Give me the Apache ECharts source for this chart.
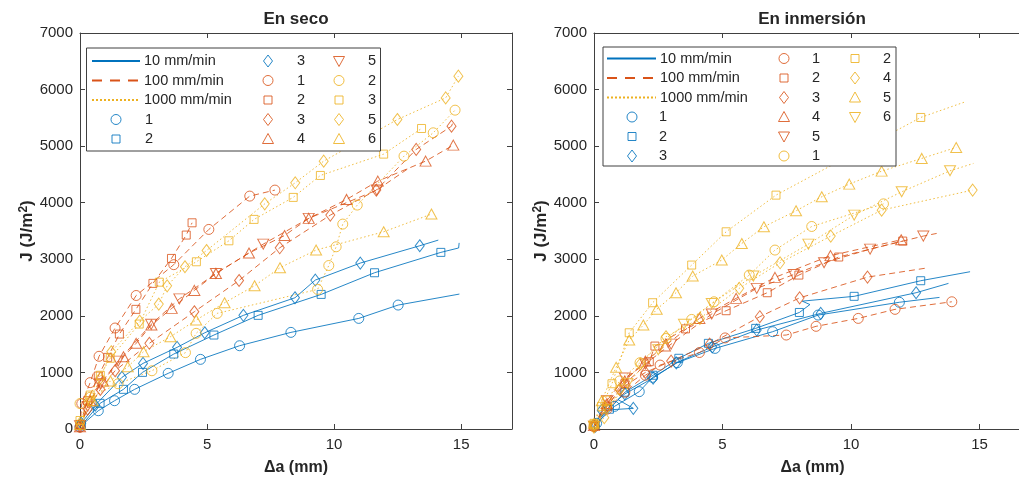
<!DOCTYPE html>
<html><head><meta charset="utf-8">
<script src="https://cdn.jsdelivr.net/npm/echarts@6/dist/echarts.min.js"></script>
<style>html,body{margin:0;padding:0;background:#fff}#c{width:1019px;height:480px}</style>
</head><body><div id="c"></div>
<script>
// ---------- text ----------
const panelTitles = ['En seco', 'En inmersión'];
const xAxisName = 'Δa (mm)';
const yAxisName = 'J (J/m{sup|2})';
const rateLabels = ['10 mm/min', '100 mm/min', '1000 mm/min'];
const xTickValues = [0, 5, 10, 15];
const yTickValues = [0, 1000, 2000, 3000, 4000, 5000, 6000, 7000];

// ---------- data: [Δa (mm), J (J/m2), (0 = line point without marker)] ----------
// En seco
const seco_b1 = [[0,40],[0.72,323],[1.36,500],[2.15,701],[3.47,984],[4.74,1231],[6.28,1472],[8.30,1708],[10.97,1955],[12.52,2191],[14.93,2385,0]];
const seco_b2 = [[0.05,60],[0.79,454],[1.71,701],[2.46,1001],[3.69,1325],[5.27,1661],[7.01,2009],[9.49,2379],[11.59,2762],[14.20,3122],[14.9,3200,0],[14.92,3290,0]];
const seco_b3 = [[0.05,100],[0.6,420],[1.65,913],[2.48,1160],[3.82,1443],[4.91,1701],[6.43,2009],[8.46,2320],[9.26,2633],[11.03,2933],[13.37,3239],[14.1,3339,0]];
const seco_r1 = [[0,30],[0.07,450],[0.4,820],[0.75,1285],[1.38,1785],[2.21,2360],[3.69,2905],[5.07,3528],[6.68,4117],[7.67,4223]];
const seco_r2 = [[0,80],[0.3,500],[0.72,936],[1.09,1266],[1.55,1678],[2.20,2115],[2.87,2574],[3.60,3015],[4.18,3428],[4.41,3645]];
const seco_r3 = [[0,50],[0.3,350],[0.8,700],[1.38,1030],[2.73,1515],[4.5,2073],[6.26,2625],[7.86,3203],[9.85,3781],[11.66,4223],[13.23,4942],[14.62,5353],[14.7,5450,0]];
const seco_r4 = [[0,40],[0.4,500],[0.9,850],[1.71,1278],[2.21,1514],[2.81,1837],[3.61,2132],[4.5,2450],[5.35,2750],[6.65,3110],[8.05,3420],[9.0,3723],[10.49,4058],[11.72,4382],[13.6,4735],[14.69,5018]];
const seco_r5 = [[0,60],[0.3,400],[0.8,800],[1.5,1200],[2.8,1850],[3.91,2300],[5.35,2750],[7.21,3268],[9.0,3723],[11.68,4223],[13.0,4630,0]];
const seco_y2 = [[0,450],[0.4,560],[1.5,800],[2.83,1030],[4.15,1350],[4.57,1691],[5.40,2044],[9.35,2468],[9.79,2890],[10.08,3221],[10.34,3622],[10.91,3958],[12.75,4823],[13.9,5236],[14.76,5636]];
const seco_y3 = [[0,150],[0.4,600],[0.8,950],[1.19,1250],[2.33,1855],[3.12,2595],[4.58,2956],[5.86,3327],[6.85,3705],[8.39,4094],[9.46,4482],[11.95,4859],[13.44,5312]];
const seco_y5 = [[0,100],[0.4,500],[0.8,900],[1.23,1366],[2.35,1908],[3.1,2208],[3.43,2530],[4.13,2868],[4.98,3155],[7.27,3980],[8.47,4352],[9.59,4735],[12.49,5471],[14.39,5853],[14.89,6237]];
const seco_y6 = [[0,80],[0.5,500],[1.2,850],[1.88,1100],[2.5,1366],[3.56,1631],[4.57,1926],[5.69,2232],[6.87,2533],[7.87,2851],[9.29,3163],[11.95,3486],[13.83,3799]];
// En inmersión
const inm_b1 = [[0.1,100],[0.8,400],[1.76,660],[2.28,913],[3.24,1172],[4.71,1425],[6.95,1720],[8.72,2014],[11.88,2240],[13.44,2326,0]];
const inm_b2 = [[0.05,60],[0.6,350],[1.2,650],[2.3,950],[3.3,1250],[4.45,1514],[6.29,1779],[7.99,2060],[8.4,2200,0],[8.1,2260,0],[10.12,2345],[12.71,2621],[14.63,2780,0]];
const inm_b3 = [[0.05,50],[0.3,330],[1.53,365],[0.93,520,0],[1.2,620],[2.3,900],[3.2,1170],[4.6,1450],[6.33,1749],[8.82,2044],[12.53,2409],[13.79,2574,0]];
const inm_r1 = [[0,40],[0.5,350],[1.2,650],[2.0,950],[2.57,1130],[4.1,1352],[5.1,1610],[7.48,1661],[8.64,1815],[10.28,1955],[11.71,2115],[13.92,2249]];
const inm_r2 = [[0,50],[0.5,400],[1.2,800],[2.15,1190],[2.37,1466],[3.56,1770],[5.14,2091],[6.74,2409],[7.97,2721],[9.52,3040],[12.01,3322]];
const inm_r3 = [[0,50],[0.5,400],[1.0,700],[2.0,1000],[3.0,1200],[4.5,1500],[6.45,1985],[8.0,2318],[10.64,2685],[13.0,2850,0]];
const inm_r4 = [[0,60],[0.5,450],[1.2,850],[2.0,1200],[2.76,1466],[4.1,1955],[5.53,2309],[7.04,2680],[9.2,3065],[11.95,3345]];
const inm_r5 = [[0,50],[0.5,500],[1.2,900],[2.0,1150],[3.0,1500],[4.58,2032],[6.33,2486],[7.77,2730],[8.95,2938],[10.74,3180],[12.81,3410],[13.33,3457,0]];
const inm_y1 = [[0,80],[0.5,500],[1.0,850],[1.79,1172],[2.8,1600],[3.8,1937],[4.67,2249],[6.04,2721],[7.04,3163],[8.47,3580],[11.26,3980]];
const inm_y2 = [[0,100],[0.3,400],[0.7,800],[1.37,1701],[2.28,2232],[3.8,2898],[5.14,3486],[7.08,4134],[12.71,5507],[14.44,5783,0]];
const inm_y4 = [[0,30],[0.4,200],[1.0,700],[1.8,1150],[2.8,1631],[4.12,1955],[5.65,2486],[7.24,2938],[9.21,3410],[11.19,3869],[14.73,4223]];
const inm_y5 = [[0,100],[0.3,500],[0.86,1090],[1.37,1572],[1.92,1837],[2.44,2115],[3.19,2409],[3.84,2703],[4.97,2986],[5.75,3280],[6.61,3575],[7.86,3857],[8.86,4105],[9.93,4329],[11.19,4558],[12.75,4783],[14.09,4977]];
const inm_y6 = [[0,50],[0.5,350],[1.3,800],[2.5,1400],[3.5,1850],[4.58,2220],[6.2,2703],[8.34,3268],[10.12,3781],[11.97,4193],[13.85,4564],[14.76,4694,0]];

// ---------- series definitions (panel, rate index, marker, legend label) ----------
const seriesDefs = [
  {p:0,r:0,m:'o',lab:'1',d:seco_b1},{p:0,r:0,m:'s',lab:'2',d:seco_b2},{p:0,r:0,m:'d',lab:'3',d:seco_b3},
  {p:0,r:1,m:'o',lab:'1',d:seco_r1},{p:0,r:1,m:'s',lab:'2',d:seco_r2},{p:0,r:1,m:'d',lab:'3',d:seco_r3},
  {p:0,r:1,m:'^',lab:'4',d:seco_r4},{p:0,r:1,m:'v',lab:'5',d:seco_r5},
  {p:0,r:2,m:'o',lab:'2',d:seco_y2},{p:0,r:2,m:'s',lab:'3',d:seco_y3},{p:0,r:2,m:'d',lab:'5',d:seco_y5},{p:0,r:2,m:'^',lab:'6',d:seco_y6},
  {p:1,r:0,m:'o',lab:'1',d:inm_b1},{p:1,r:0,m:'s',lab:'2',d:inm_b2},{p:1,r:0,m:'d',lab:'3',d:inm_b3},
  {p:1,r:1,m:'o',lab:'1',d:inm_r1},{p:1,r:1,m:'s',lab:'2',d:inm_r2},{p:1,r:1,m:'d',lab:'3',d:inm_r3},
  {p:1,r:1,m:'^',lab:'4',d:inm_r4},{p:1,r:1,m:'v',lab:'5',d:inm_r5},
  {p:1,r:2,m:'o',lab:'1',d:inm_y1},{p:1,r:2,m:'s',lab:'2',d:inm_y2},{p:1,r:2,m:'d',lab:'4',d:inm_y4},
  {p:1,r:2,m:'^',lab:'5',d:inm_y5},{p:1,r:2,m:'v',lab:'6',d:inm_y6}
];

// ---------- styles ----------
const COL = ['#0072BD', '#D95319', '#EDB120'];
const DASH = ['solid', [6, 4], [1.5, 2.5]];
const LEG_DASH = [null, [10, 8], [2, 2]];
const SYM = {o:'circle', s:'rect', d:'diamond', '^':'triangle', v:'triangle'};
const SIZE = {o:10, s:8, d:[9,12], '^':[11,10], v:[11,10]};
const FONT = "'Liberation Sans', Arial, Helvetica, sans-serif";
const TXT = '#262626';

const grids = [
  {left:80, top:33, width:432, height:396, outerBoundsMode:'none', containLabel:false},
  {left:594, top:33, width:437, height:396, outerBoundsMode:'none', containLabel:false}
];

const xAxes = [], yAxes = [];
grids.forEach((g, i) => {
  const base = {gridIndex:i, type:'value', splitLine:{show:false},
    axisLine:{show:true, onZero:false, lineStyle:{color:'#404040', width:1}},
    axisTick:{show:true, inside:true, length:5, lineStyle:{color:'#404040'}}};
  xAxes.push(Object.assign({}, base, {position:'bottom', min:0, max:17, interval:5,
    axisLabel:{fontSize:15, color:TXT, fontFamily:FONT, margin:8,
      formatter: v => xTickValues.indexOf(v) >= 0 ? String(v) : ''},
    name:xAxisName, nameLocation:'middle', nameGap:31,
    nameTextStyle:{fontSize:16, fontWeight:'bold', color:TXT, fontFamily:FONT}}));
  xAxes.push(Object.assign({}, base, {position:'top', min:0, max:17, interval:5, axisLabel:{show:false}}));
  yAxes.push(Object.assign({}, base, {position:'left', min:0, max:7000, interval:1000,
    axisLabel:{fontSize:15, color:TXT, fontFamily:FONT, margin:7,
      formatter: v => yTickValues.indexOf(v) >= 0 ? String(v) : ''},
    name:yAxisName, nameLocation:'middle', nameGap:24, nameRotate:90,
    nameTextStyle:{fontSize:17, fontWeight:'bold', color:TXT, fontFamily:FONT,
      rich:{sup:{fontSize:12, fontWeight:'bold', color:TXT, fontFamily:FONT, padding:[0,0,8,0]}}}}));
  yAxes.push(Object.assign({}, base, {position:'right', min:0, max:7000, interval:1000, axisLabel:{show:false}}));
});

const series = seriesDefs.map(s => ({
  type:'line', xAxisIndex:s.p*2, yAxisIndex:s.p*2,
  data: s.d.map(pt => pt[2] === 0 ? {value:[pt[0], pt[1]], symbol:'none'} : [pt[0], pt[1]]),
  symbol: SYM[s.m], symbolSize: SIZE[s.m], symbolRotate: s.m === 'v' ? 180 : 0,
  showAllSymbol: true, clip: false,
  lineStyle: {color: COL[s.r], width: 1, type: DASH[s.r], opacity: 0.85},
  itemStyle: {color: 'rgba(255,255,255,0)', borderColor: COL[s.r], borderWidth: 1, opacity: 0.8},
  emphasis: {disabled: true}, silent: true, animation: false
}));

// ---------- legend (drawn as graphics) ----------
function markerGraphic(m, cx, cy, color) {
  const style = {fill:'none', stroke:color, lineWidth:1, opacity:0.85};
  if (m === 'o') return {type:'circle', shape:{cx, cy, r:5}, style, z:101};
  if (m === 's') return {type:'rect', shape:{x:cx-4, y:cy-4, width:8, height:8}, style, z:101};
  if (m === 'd') return {type:'polygon', shape:{points:[[cx,cy-6],[cx+4.5,cy],[cx,cy+6],[cx-4.5,cy]]}, style, z:101};
  if (m === '^') return {type:'polygon', shape:{points:[[cx,cy-5.5],[cx+5.5,cy+4.5],[cx-5.5,cy+4.5]]}, style, z:101};
  return {type:'polygon', shape:{points:[[cx,cy+5.5],[cx+5.5,cy-4.5],[cx-5.5,cy-4.5]]}, style, z:101};
}
const legendLayouts = [
  {box:[86.5, 48, 294, 103], rows:[61, 80.5, 100, 119.5, 139], lineX:[92,140], lineLabX:144,
   colX:[116, 268, 339], labX:[145, 297, 368]},
  {box:[603, 47, 293, 119], rows:[58.5, 78, 97.5, 117, 136.5, 156], lineX:[607,656], lineLabX:660,
   colX:[632, 784, 855], labX:[659, 812, 883]}
];
const titleCenters = [296, 812];
const graphics = [];
panelTitles.forEach((t, i) => {
  graphics.push({type:'text', z:101, style:{text:t, x:titleCenters[i], y:19,
    textAlign:'center', textVerticalAlign:'middle', verticalAlign:'middle',
    font:"bold 17px " + FONT, fill:TXT}});
});
legendLayouts.forEach((L, p) => {
  graphics.push({type:'rect', z:100, shape:{x:L.box[0], y:L.box[1], width:L.box[2], height:L.box[3]},
    style:{fill:'#ffffff', stroke:'#404040', lineWidth:1}});
  const entries = [];
  rateLabels.forEach((lab, r) => entries.push({kind:'line', r, lab}));
  seriesDefs.filter(s => s.p === p).forEach(s => entries.push({kind:'mk', r:s.r, m:s.m, lab:s.lab}));
  const nRows = L.rows.length;
  entries.forEach((e, k) => {
    const col = Math.floor(k / nRows), row = k % nRows, y = L.rows[row];
    if (e.kind === 'line') {
      const st = {stroke:COL[e.r], lineWidth:2};
      if (LEG_DASH[e.r]) st.lineDash = LEG_DASH[e.r];
      graphics.push({type:'line', z:101, shape:{x1:L.lineX[0], y1:y, x2:L.lineX[1], y2:y}, style:st});
      graphics.push({type:'text', z:101, style:{text:e.lab, x:L.lineLabX, y:y, textVerticalAlign:'middle',
        verticalAlign:'middle', font:"14.5px " + FONT, fill:TXT}});
    } else {
      graphics.push(markerGraphic(e.m, L.colX[col], y, COL[e.r]));
      graphics.push({type:'text', z:101, style:{text:e.lab, x:L.labX[col], y:y, textVerticalAlign:'middle',
        verticalAlign:'middle', font:"14.5px " + FONT, fill:TXT}});
    }
  });
});

const chart = echarts.init(document.getElementById('c'), null, {renderer:'canvas'});
chart.setOption({
  animation:false, backgroundColor:'#ffffff',
  grid: grids, xAxis: xAxes, yAxis: yAxes, series: series, graphic: graphics
});
</script></body></html>
